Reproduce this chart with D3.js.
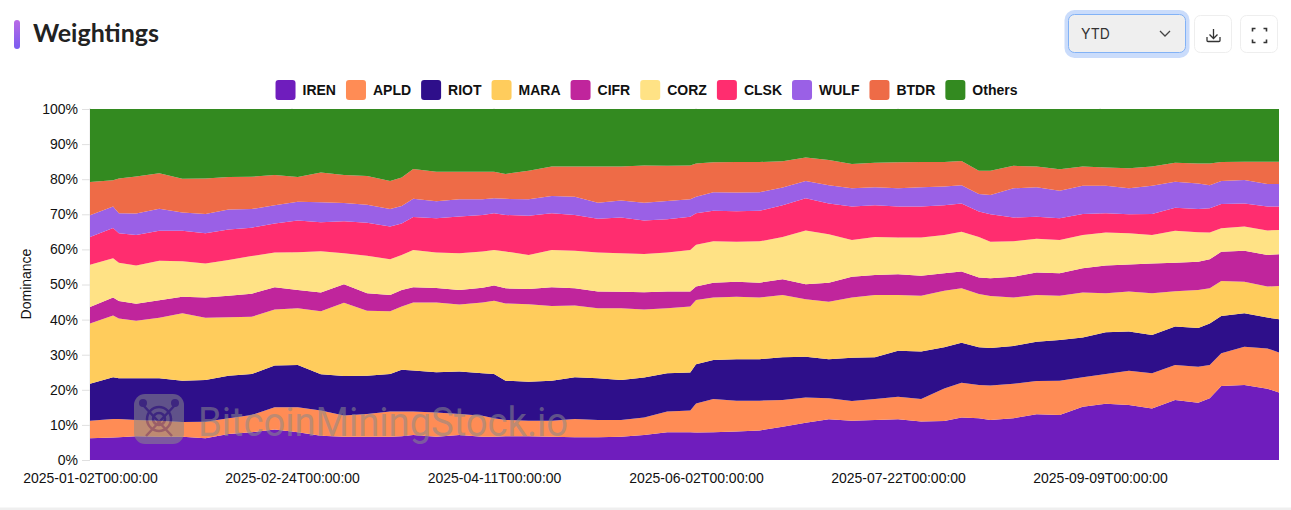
<!DOCTYPE html>
<html>
<head>
<meta charset="utf-8">
<script src="https://cdn.jsdelivr.net/npm/d3@7"></script>
<style>
  html, body { margin: 0; padding: 0; background: #fff; }
  svg { display: block; }
  text { font-family: "Liberation Sans", Arial, sans-serif; }
</style>
</head>
<body>
<svg id="chart" width="1291" height="510"></svg>
<script>
// trading day index of each reading
const days = [0,4,5,8,12,16,20,24,28,32,36,40,44,48,52,54,56,60,64,
  68,70,72,76,80,84,88,92,96,100,104,105,108,112,116,120,124,128,132,136,
  140,144,148,151,154,156,160,164,168,172,176,180,184,188,192,194,196,200,204,206]

// top edge of each band in percent
const iren = [6.2,6.4,6.5,6.8,6.6,6.6,6.2,7.4,7.9,8.7,7.9,6.9,6.6,6.6,6.6,6.8,7.1,6.6,7.1,
  6.6,6.6,6.8,6.8,6.6,6.5,6.5,6.6,7.1,7.9,7.9,7.8,7.9,8.1,8.4,9.5,10.6,11.6,11.2,11.4,
  11.6,11.0,11.1,12.1,11.9,11.4,11.9,13.0,12.8,15.2,16.0,15.7,14.7,17.1,16.3,17.6,21.1,21.4,20.3,19.2]
const apld = [11.2,11.7,11.7,11.4,11.2,10.8,10.9,11.9,12.8,15.0,15.0,14.1,12.7,13.1,13.8,13.8,13.8,13.5,13.1,
  12.6,11.9,11.4,11.2,11.2,11.7,11.4,11.4,12.1,13.8,14.1,16.1,17.4,16.9,16.9,17.1,17.8,17.6,16.8,17.4,
  18.0,17.4,20.4,22.0,21.4,21.2,21.7,22.5,22.6,23.6,24.5,25.4,24.7,27.1,26.6,27.1,30.4,32.3,31.8,30.6]
const riot = [21.7,23.6,23.3,23.3,23.3,22.6,22.8,24.0,24.5,26.9,27.1,24.4,23.9,24.0,24.5,25.7,25.5,25.0,25.2,
  24.7,24.5,22.6,22.3,22.6,23.6,23.3,22.8,23.5,24.7,24.9,27.3,28.5,28.7,28.7,29.3,29.4,28.7,29.1,29.3,
  31.1,30.9,32.1,33.4,32.1,31.9,32.5,33.7,34.2,34.9,36.4,36.6,35.6,38.0,37.6,38.9,41.0,41.8,40.6,40.1]
const mara = [38.9,41.2,40.3,39.7,40.5,41.8,40.5,40.7,40.8,42.9,43.2,42.4,44.8,42.5,42.4,43.7,44.9,44.9,44.3,
  44.9,45.4,44.6,44.4,43.9,44.0,43.2,43.2,42.9,43.2,43.7,45.6,46.3,46.5,46.3,47.0,45.8,45.1,46.3,47.0,
  47.0,46.8,48.2,48.9,47.3,46.7,46.3,47.0,46.8,47.7,47.5,48.0,47.5,48.1,48.4,48.9,51.0,50.8,49.4,49.6]
const cifr = [43.6,46.3,45.3,44.5,45.5,46.5,46.3,46.8,47.4,49.2,48.4,47.7,50.1,47.5,47.0,48.4,49.2,49.0,48.4,
  49.1,49.7,48.9,48.7,49.2,48.9,48.0,47.9,47.8,48.0,48.0,49.4,50.5,50.8,50.5,51.5,50.1,50.5,52.2,52.7,
  52.9,52.5,53.2,53.7,52.0,51.8,52.2,53.4,53.2,54.6,55.4,55.7,56.0,56.2,56.5,57.2,59.3,59.6,58.4,58.6]
const corz = [55.6,57.5,56.2,55.4,56.8,56.6,56.0,57.0,58.1,59.1,59.2,59.5,58.9,58.2,57.2,58.4,59.8,59.1,58.9,
  59.4,59.8,59.4,58.4,59.8,59.6,59.1,58.9,58.7,59.1,59.8,61.3,62.3,62.2,62.3,63.5,65.4,64.3,62.7,63.5,
  63.4,63.4,64.1,65.0,63.5,62.2,62.3,63.0,62.7,64.1,64.8,64.6,64.1,65.3,64.9,64.8,66.0,66.5,65.4,65.5]
const clsk = [63.5,66.1,64.6,64.1,65.3,65.3,64.6,65.7,66.2,67.4,68.2,67.7,68.0,67.6,66.5,67.4,69.2,68.9,69.4,
  69.8,70.3,69.8,69.6,70.3,69.8,68.7,69.1,68.2,68.6,69.3,70.3,71.0,70.9,71.0,72.6,74.6,73.1,72.2,72.6,
  72.2,72.2,72.6,73.1,70.8,70.0,69.1,69.3,68.9,70.1,70.3,70.0,70.1,71.9,71.5,71.7,72.9,73.1,72.2,72.2]
const wulf = [69.7,72.2,70.3,70.2,71.6,70.5,70.1,71.4,71.5,72.6,73.6,73.4,73.2,72.7,71.5,72.4,74.4,73.7,74.3,
  74.3,74.6,74.4,74.3,75.2,75.0,73.3,73.9,73.3,73.8,74.3,75.0,76.3,76.2,76.3,77.6,79.5,78.3,77.4,77.7,
  77.4,77.7,77.9,78.3,75.8,75.5,77.4,77.7,76.7,78.1,78.1,77.4,78.1,79.3,78.8,78.3,79.5,79.8,78.6,78.6]
const btdr = [79.2,79.7,80.2,80.8,81.7,80.1,80.2,80.6,80.7,81.2,80.6,81.9,81.2,80.9,79.5,80.5,82.9,82.1,82.1,
  82.1,82.1,81.5,82.4,83.6,83.6,83.6,83.6,83.9,83.8,83.9,84.5,84.8,84.9,84.9,85.1,86.2,85.5,84.3,84.7,
  84.8,84.9,84.9,85.2,82.4,82.4,83.8,83.6,82.8,83.6,83.3,83.1,83.6,84.7,84.5,84.5,84.9,85.0,85.0,85.0]
const others = days.map(() => 100)

const names = ['IREN','APLD','RIOT','MARA','CIFR','CORZ','CLSK','WULF','BTDR','Others']
const edges = [iren, apld, riot, mara, cifr, corz, clsk, wulf, btdr, others]
const colors = ['#6f1dbd','#ff8c55','#2e0f8a','#ffcc5c','#c0259c','#ffe285','#ff2d6f','#9a60e6','#ee6b47','#338a20']
const xTickDays = [0,35,70,105,140,175]
const xTickLabels = ['2025-01-02T00:00:00','2025-02-24T00:00:00','2025-04-11T00:00:00','2025-06-02T00:00:00','2025-07-22T00:00:00','2025-09-09T00:00:00']

const svg = d3.select('#chart')
const margin = { top: 109, right: 12, bottom: 50, left: 90 }
const width = 1291, height = 510

const x = d3.scaleLinear().domain([0, 206]).range([margin.left, width - margin.right])
const y = d3.scaleLinear().domain([0, 100]).range([height - margin.bottom, margin.top])

// header
const defs = svg.append('defs')
const grad = defs.append('linearGradient').attr('id', 'accent').attr('x1', 0).attr('x2', 0).attr('y1', 0).attr('y2', 1)
grad.append('stop').attr('offset', '0%').attr('stop-color', '#b96ae6')
grad.append('stop').attr('offset', '100%').attr('stop-color', '#7a5cf0')
svg.append('rect').attr('x', 14).attr('y', 20).attr('width', 6).attr('height', 29).attr('rx', 3).attr('fill', 'url(#accent)')
svg.append('text').attr('x', 33).attr('y', 42).attr('fill', '#222').attr('font-size', 25).attr('font-weight', 700)
  .style('font-family', 'Lato, sans-serif').text('Weightings')

// range select
svg.append('rect').attr('x', 1064.5).attr('y', 10).attr('width', 125).attr('height', 48).attr('rx', 10).attr('fill', '#cadcfb')
svg.append('rect').attr('x', 1068.5).attr('y', 14.5).attr('width', 117).attr('height', 38).attr('rx', 6)
  .attr('fill', '#efefef').attr('stroke', '#82b2f6').attr('stroke-width', 1)
svg.append('text').attr('x', 1081).attr('y', 39).attr('fill', '#333').attr('font-size', 14).style('font-family', 'Inter, sans-serif').text('YTD')
svg.append('path').attr('d', 'M1160 31l5 5l5 -5').attr('fill', 'none').attr('stroke', '#444').attr('stroke-width', 1.3)

// buttons
for (const bx of [1195, 1241]) {
  svg.append('rect').attr('x', bx - 0.5).attr('y', 15.5).attr('width', 37).attr('height', 37).attr('rx', 6)
    .attr('fill', '#fff').attr('stroke', '#eeeeee')
}
svg.append('path').attr('d', 'M1213.5 29v9M1209.5 34.5l4 4l4 -4M1207 37v3.5a1 1 0 0 0 1 1h11a1 1 0 0 0 1 -1v-3.5')
  .attr('fill', 'none').attr('stroke', '#333').attr('stroke-width', 1.3)
svg.append('path').attr('d', 'M1252.5 31.5v-3h3M1263.5 28.5h3v3M1266.5 39.5v3h-3M1255.5 42.5h-3v-3')
  .attr('fill', 'none').attr('stroke', '#333').attr('stroke-width', 1.6)

// legend, centred over the plot
const legend = svg.append('g')
let lx = 0
names.forEach((n, i) => {
  const g = legend.append('g')
  g.append('rect').attr('width', 20).attr('height', 20).attr('y', -1).attr('rx', 3).attr('fill', colors[i])
  const t = g.append('text').attr('x', 27).attr('y', 14).attr('font-size', 14).attr('font-weight', 700).attr('fill', '#111').text(n)
  const w = 27 + t.node().getComputedTextLength()
  g.attr('transform', `translate(${lx},0)`)
  lx += w + 10
})
legend.attr('transform', `translate(${646.5 - (lx - 10) / 2},81)`)

// grid stubs and axes
svg.append('g').selectAll('line').data(xTickDays).join('line')
  .attr('x1', d => x(d)).attr('x2', d => x(d)).attr('y1', y(100) - 1).attr('y2', y(0))
  .attr('stroke', '#e5e5e5')

const yAxis = d3.axisLeft(y).tickValues(d3.range(0, 101, 10)).tickFormat(d => d + '%').tickSize(8).tickPadding(4)
const yg = svg.append('g').attr('transform', `translate(${margin.left},0)`).call(yAxis)
yg.select('.domain').remove()
yg.selectAll('line').attr('stroke', '#e0e0e0')
yg.selectAll('text').attr('font-size', 14).attr('fill', '#111').style('font-family', '"Liberation Sans", Arial, sans-serif')

const xAxis = d3.axisBottom(x).tickValues(xTickDays).tickFormat((d, i) => xTickLabels[i]).tickSize(0).tickPadding(13)
const xg = svg.append('g').attr('transform', `translate(0,${y(0)})`).call(xAxis)
xg.select('.domain').remove()
xg.selectAll('text').attr('font-size', 14).attr('fill', '#111').style('font-family', '"Liberation Sans", Arial, sans-serif')

svg.append('text').attr('transform', `translate(31,284) rotate(-90)`)
  .attr('text-anchor', 'middle').attr('font-size', 14).attr('fill', '#111').text('Dominance')

// bands, bottom to top
const area = d3.area()
  .x((d, i) => x(days[i]))
  .y0((d, i) => y(d[0]))
  .y1((d, i) => y(d[1]))

svg.append('g').selectAll('path').data(edges).join('path')
  .attr('fill', (d, i) => colors[i])
  .attr('d', (d, k) => area(d.map((v, i) => [k === 0 ? 0 : edges[k - 1][i], v])))

// watermark
const wm = svg.append('g').attr('opacity', 0.55).attr('fill', '#8a8a8a').attr('stroke', 'none')
wm.append('rect').attr('x', 134).attr('y', 394).attr('width', 50).attr('height', 50).attr('rx', 11)
const icon = wm.append('g').attr('fill', 'none').attr('stroke', '#4a3a78').attr('stroke-width', 2.5)
icon.append('circle').attr('cx', 159).attr('cy', 419).attr('r', 6)
icon.append('circle').attr('cx', 159).attr('cy', 419).attr('r', 12)
icon.append('path').attr('d', 'M142 404L172 436M176 404L146 436')
wm.append('circle').attr('cx', 143).attr('cy', 403).attr('r', 4).attr('fill', '#4a3a78')
wm.append('circle').attr('cx', 175).attr('cy', 403).attr('r', 4).attr('fill', '#4a3a78')
wm.append('text').attr('x', 198).attr('y', 436).attr('font-size', 41).attr('font-weight', 400).attr('fill', '#8a8a8a')
  .attr('textLength', 370).attr('lengthAdjust', 'spacingAndGlyphs')
  .style('font-family', 'Roboto, sans-serif').text('BitcoinMiningStock.io')

// card bottom edge
svg.append('rect').attr('x', 0).attr('y', 507.5).attr('width', width).attr('height', 2.5).attr('fill', '#efefef')
</script>
</body>
</html>
